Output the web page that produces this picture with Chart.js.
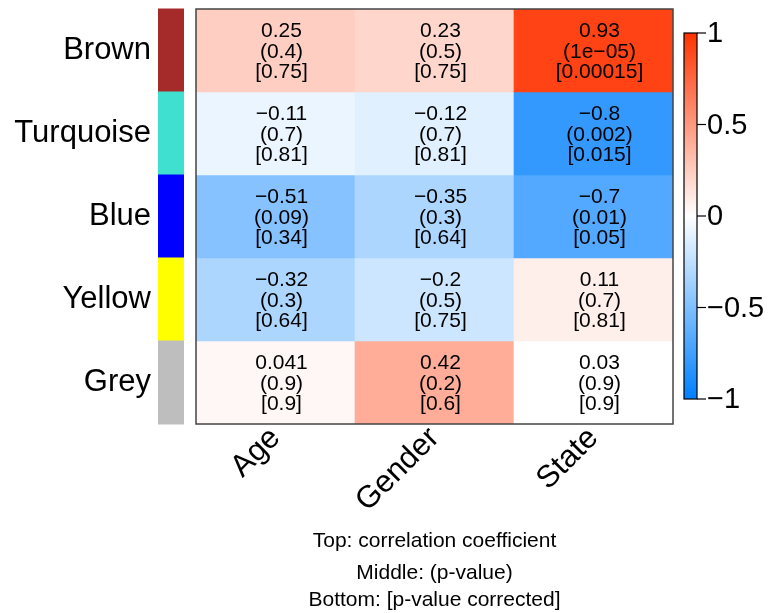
<!DOCTYPE html>
<html>
<head>
<meta charset="utf-8">
<title>Module-trait correlations</title>
<script src="https://cdn.jsdelivr.net/npm/chart.js@4"></script>
<style>
  html, body { margin: 0; padding: 0; background: #fff; }
  #wrap { width: 771px; height: 613px; }
</style>
</head>
<body>
<div id="wrap"><canvas id="heat" width="771" height="613"></canvas></div>
<script>
// Data
const modules = ['Brown', 'Turquoise', 'Blue', 'Yellow', 'Grey'];
const moduleColors = ['#A52A2A', '#40E0D0', '#0000FF', '#FFFF00', '#BEBEBE'];
const traits = ['Age', 'Gender', 'State'];
const corValues = [
    [0.25, 0.23, 0.93],
    [-0.11, -0.12, -0.8],
    [-0.51, -0.35, -0.7],
    [-0.32, -0.2, 0.11],
    [0.041, 0.42, 0.03]
];
const pValues = [
    [0.4, 0.5, 1e-5],
    [0.7, 0.7, 0.002],
    [0.09, 0.3, 0.01],
    [0.3, 0.5, 0.7],
    [0.9, 0.2, 0.9]
];
const pAdjusted = [
    [0.75, 0.75, 0.00015],
    [0.81, 0.81, 0.015],
    [0.34, 0.64, 0.05],
    [0.64, 0.75, 0.81],
    [0.9, 0.6, 0.9]
];
const scaleTicks = [1, 0.5, 0, -0.5, -1];
const captionLines = [
    'Top: correlation coefficient',
    'Middle: (p-value)',
    'Bottom: [p-value corrected]'
];

const FONT = '"Liberation Sans", Arial, Helvetica, sans-serif';
const NEG = [0, 128, 255];
const POS = [255, 51, 0];
const STEP = 0.04; // 50-colour palette over [-1, 1]

function colorFor(v, smooth) {
    const end = v < 0 ? NEG : POS;
    let t = Math.min(1, Math.abs(v));
    if (!smooth) t = Math.floor(t / STEP + 1e-9) * STEP;
    const c = end.map(e => Math.round(255 + (e - 255) * t));
    return 'rgb(' + c.join(',') + ')';
}

// R-style number printing with a real minus sign
function fmt(v) {
    if (v !== 0 && Math.abs(v) < 1e-4) {
        const parts = v.toExponential().split('e');
        const e = +parts[1];
        return parts[0] + 'e' + (e < 0 ? '\u2212' : '+') + String(Math.abs(e)).padStart(2, '0');
    }
    return String(v).replace('-', '\u2212');
}

// Cell labels, side colour strip, frame, colour key and caption
const heatExtras = {
    id: 'heatExtras',
    afterDatasetsDraw(chart) {
        const ctx = chart.ctx;
        const area = chart.chartArea;
        const y = chart.scales.y;

        ctx.save();
        ctx.fillStyle = '#000';
        ctx.font = '21px ' + FONT;
        ctx.textAlign = 'center';
        ctx.textBaseline = 'middle';
        chart.data.datasets.forEach((ds, i) => {
            chart.getDatasetMeta(i).data.forEach((bar, j) => {
                const cx = bar.x + 6;
                const cy = (bar.y + bar.base) / 2 + 1.5;
                ctx.fillText(fmt(corValues[i][j]), cx, cy - 20.5);
                ctx.fillText('(' + fmt(pValues[i][j]) + ')', cx, cy);
                ctx.fillText('[' + fmt(pAdjusted[i][j]) + ']', cx, cy + 20.5);
            });
        });

        // module colour strip
        modules.forEach((m, i) => {
            const y0 = y.getPixelForValue(i);
            const y1 = y.getPixelForValue(i + 1);
            ctx.fillStyle = moduleColors[i];
            ctx.fillRect(area.left - 38, y0 - 0.5, 26, y1 - y0 + 1);
        });

        // frame
        ctx.strokeStyle = '#444';
        ctx.lineWidth = 1.5;
        ctx.strokeRect(area.left, area.top, area.right - area.left, area.bottom - area.top);

        // colour key
        const kx = area.right + 11, kw = 13;
        const kTop = area.top + 24, kBot = area.bottom - 25;
        const grad = ctx.createLinearGradient(0, kTop, 0, kBot);
        grad.addColorStop(0, colorFor(1, true));
        grad.addColorStop(0.5, colorFor(0, true));
        grad.addColorStop(1, colorFor(-1, true));
        ctx.fillStyle = grad;
        ctx.fillRect(kx, kTop, kw, kBot - kTop);
        ctx.strokeStyle = '#000';
        ctx.lineWidth = 1.2;
        ctx.strokeRect(kx, kTop, kw, kBot - kTop);
        ctx.font = '29px ' + FONT;
        ctx.textAlign = 'left';
        ctx.fillStyle = '#000';
        scaleTicks.forEach(v => {
            const ty = kTop + (1 - v) / 2 * (kBot - kTop);
            ctx.beginPath();
            ctx.moveTo(kx + kw, ty);
            ctx.lineTo(kx + kw + 9, ty);
            ctx.stroke();
            ctx.fillText(fmt(v), kx + kw + 10, ty + 1);
        });

        // caption
        ctx.font = '21px ' + FONT;
        ctx.textAlign = 'center';
        const mid = (area.left + area.right) / 2;
        const offs = [117, 149, 176];
        captionLines.forEach((line, k) => ctx.fillText(line, mid, area.bottom + offs[k]));
        ctx.restore();
    }
};

const datasets = modules.map((m, i) => ({
    label: m,
    data: traits.map(() => [i, i + 1]),
    backgroundColor: corValues[i].map(v => colorFor(v)),
    borderWidth: 0,
    grouped: false,
    barPercentage: 1,
    categoryPercentage: 1
}));

new Chart(document.getElementById('heat'), {
    type: 'bar',
    data: { labels: traits, datasets: datasets },
    plugins: [heatExtras],
    options: {
        responsive: false,
        animation: false,
        layout: { padding: { left: 0, right: 98, top: 9, bottom: 0 } },
        plugins: {
            legend: { display: false },
            tooltip: { enabled: false },
            title: { display: false }
        },
        scales: {
            x: {
                grid: { display: false, drawTicks: false },
                border: { display: false },
                ticks: {
                    color: '#000',
                    font: { family: FONT, size: 31 },
                    minRotation: 45,
                    maxRotation: 45,
                    autoSkip: false,
                    padding: -4
                },
                afterFit(scale) {
                    scale.height = 189;
                    scale.paddingLeft = 0;
                    scale.paddingRight = 0;
                }
            },
            y: {
                type: 'linear',
                min: 0,
                max: modules.length,
                reverse: true,
                grid: { display: false, drawTicks: false },
                border: { display: false },
                afterBuildTicks(scale) {
                    scale.ticks = modules.map((m, i) => ({ value: i + 0.5 }));
                },
                ticks: {
                    color: '#000',
                    font: { family: FONT, size: 31 },
                    padding: 45,
                    callback: (v, idx) => modules[idx]
                },
                afterFit(scale) {
                    scale.width = 196;
                    scale.paddingTop = 0;
                    scale.paddingBottom = 0;
                }
            }
        }
    }
});
</script>
</body>
</html>
